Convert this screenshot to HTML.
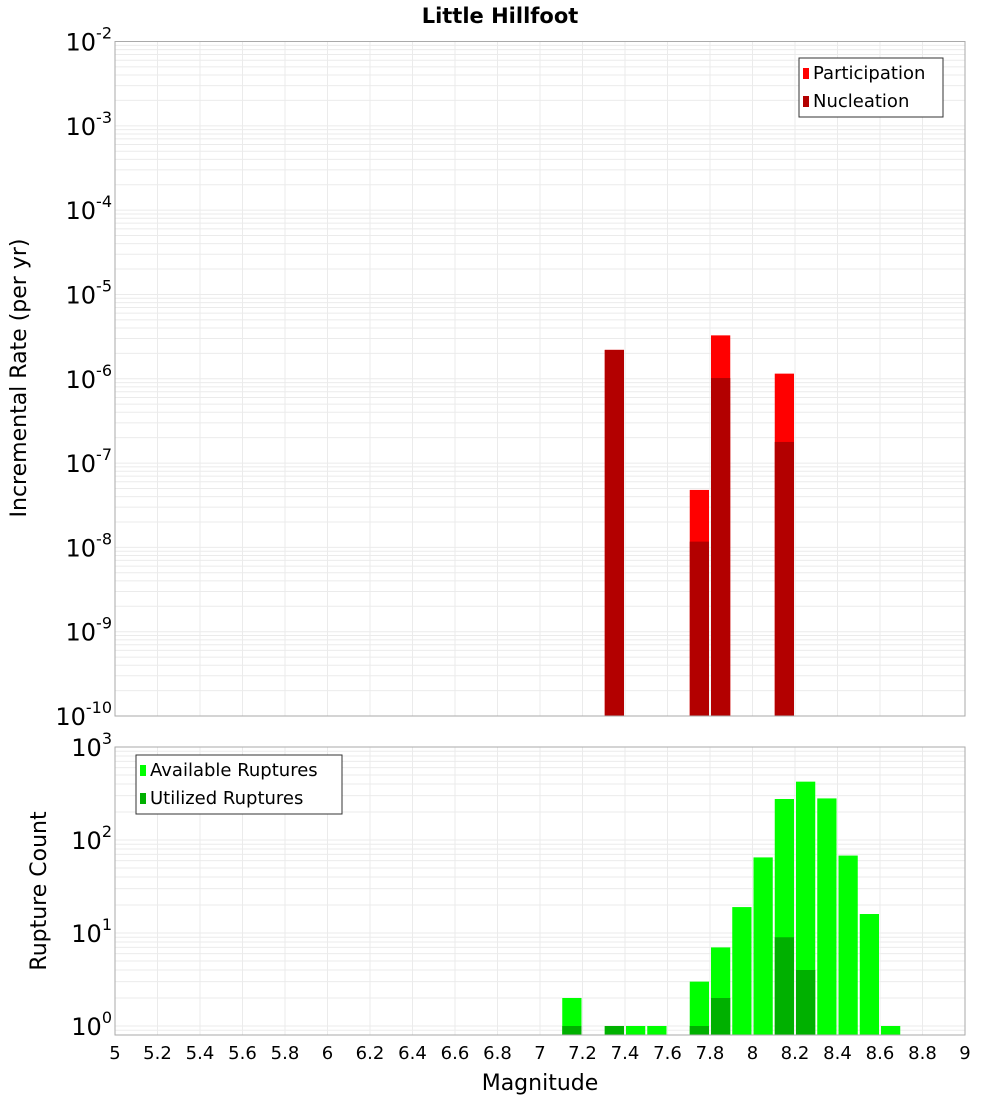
<!DOCTYPE html>
<html><head><meta charset="utf-8"><style>
body{margin:0;background:#fff;font-family:"Liberation Sans","DejaVu Sans",sans-serif}
svg text{font-family:"DejaVu Sans","Liberation Sans",sans-serif}
</style></head><body>
<svg id="c" width="1000" height="1100" xmlns="http://www.w3.org/2000/svg">
<text x="500" y="23" text-anchor="middle" font-size="21" font-weight="bold">Little Hillfoot</text>
<text transform="translate(26,378) rotate(-90)" text-anchor="middle" font-size="22">Incremental Rate (per yr)</text>
<text transform="translate(46,891) rotate(-90)" text-anchor="middle" font-size="22">Rupture Count</text>
<text x="540" y="1090" text-anchor="middle" font-size="22">Magnitude</text>
</svg>
<script>
const mags=[7.35,7.75,7.85,8.15];
const participation=[2.2e-6,4.8e-8,3.27e-6,1.15e-6];
const nucleation=[2.2e-6,1.17e-8,1.02e-6,1.78e-7];
const countMags=[7.15,7.35,7.45,7.55,7.75,7.85,7.95,8.05,8.15,8.25,8.35,8.45,8.55,8.65];
const available=[2,1,1,1,3,7,19,65,276,424,280,68,16,1];
const utilized=[1,1,0,0,1,2,0,0,9,4,0,0,0,0];
const xTicks=["5","5.2","5.4","5.6","5.8","6","6.2","6.4","6.6","6.8","7","7.2","7.4","7.6","7.8","8","8.2","8.4","8.6","8.8","9"];
const topExps=[-2,-3,-4,-5,-6,-7,-8,-9,-10];
const botExps=[3,2,1,0];

const svg=document.getElementById('c');const NS="http://www.w3.org/2000/svg";
function mk(t,a,p){const e=document.createElementNS(NS,t);for(const k in a)e.setAttribute(k,a[k]);(p||svg).appendChild(e);return e;}
const X0=115,X1=965;
const xs=m=>X0+(m-5)/4*(X1-X0);
const T0=41.5,T1=716;
const yt=v=>T0+(-2-Math.log10(v))/8*(T1-T0);
const B0=747,B1=1035,Bdec=93,Bone=1026;
const yb=v=>Bone-Math.log10(v)*Bdec;

function grid(top,bot,yf,eLo,eHi,name){
  const g=mk('g',{});
  
  
  for(let e=eLo;e<eHi;e++)for(let k=1;k<=9;k++){const y=yf(k*Math.pow(10,e));if(y<top-0.1||y>bot)continue;
    mk('line',{x1:X0,x2:X1,y1:y,y2:y,stroke:'#ebebeb','stroke-width':1},g);}
  for(let i=1;i<20;i++){const x=X0+i*(X1-X0)/20;mk('line',{x1:x,x2:x,y1:top,y2:bot,stroke:'#ebebeb','stroke-width':1},g);}
}
grid(T0,T1,yt,-10,-2,'top-grid');
grid(B0,B1,yb,-1,3,'bottom-grid');

function bar(m,v,base,yf,col,name){
  const x=xs(m-0.05)+1,w=xs(m+0.05)-xs(m-0.05)-2,y=yf(v);
  const r=mk('rect',{x:x,y:y,width:w,height:base-y,fill:col});
  
  
}
mags.forEach((m,i)=>{bar(m,participation[i],T1,yt,'#ff0000','participation-bar');bar(m,nucleation[i],T1,yt,'#b30000','nucleation-bar');});
countMags.forEach((m,i)=>{if(available[i]>0)bar(m,available[i],B1,yb,'#00ff00','available-bar');if(utilized[i]>0)bar(m,utilized[i],B1,yb,'#00b000','utilized-bar');});

mk('rect',{x:X0,y:T0,width:X1-X0,height:T1-T0,fill:'none',stroke:'#aaa'});
mk('rect',{x:X0,y:B0,width:X1-X0,height:B1-B0,fill:'none',stroke:'#aaa'});

function ylab(e,y,name){
  const t=mk('text',{x:112,y:y+9,'text-anchor':'end','font-size':24});
  
  
  const a=mk('tspan',{},t);a.textContent='10';
  const b=mk('tspan',{dy:-12,'font-size':16},t);b.textContent=String(e);
}
topExps.forEach(e=>ylab(e,yt(Math.pow(10,e)),'top-y-tick'));
botExps.forEach(e=>ylab(e,yb(Math.pow(10,e)),'bottom-y-tick'));
xTicks.forEach((s,i)=>{const t=mk('text',{x:X0+i*(X1-X0)/20,y:1059,'text-anchor':'middle','font-size':18});
  
  
  t.textContent=s;});

function legend(x,y,w,items,name){
  const g=mk('g',{});
  
  
  mk('rect',{x:x,y:y,width:w,height:59,fill:'#fff',stroke:'#333'},g);
  items.forEach((it,i)=>{mk('rect',{x:x+4,y:y+10+i*28,width:6,height:11,fill:it[1]},g);
    const t=mk('text',{x:x+14,y:y+21+i*28,'font-size':18},g);t.textContent=it[0];});
}
legend(799,58,144,[['Participation','#ff0000'],['Nucleation','#b30000']],'top-legend');
legend(136,755,206,[['Available Ruptures','#00ff00'],['Utilized Ruptures','#00b000']],'bottom-legend');
</script>
</body></html>
